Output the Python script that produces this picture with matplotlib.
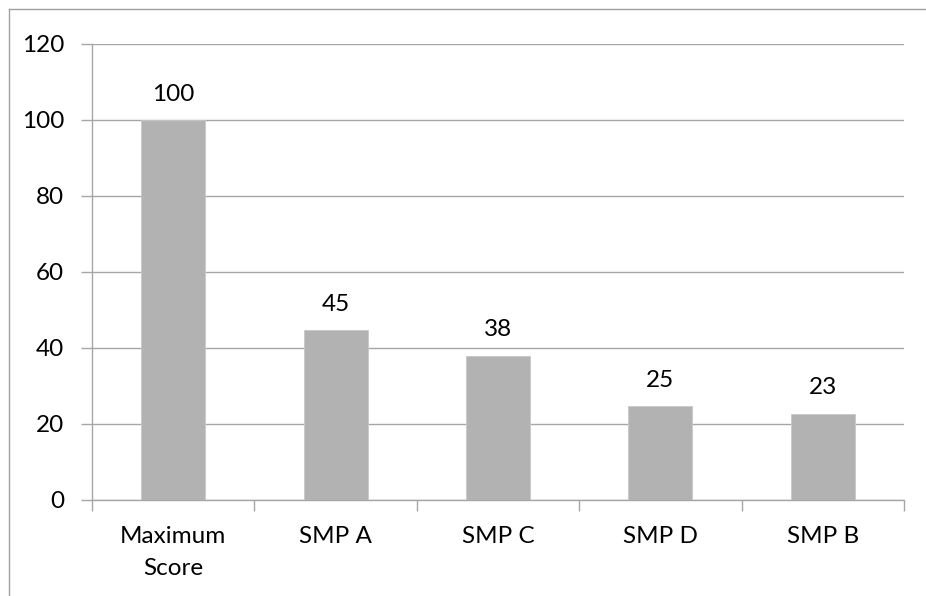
import matplotlib
matplotlib.use("Agg")
import matplotlib.pyplot as plt
from matplotlib.lines import Line2D
import numpy as np

categories = ["Maximum\nScore", "SMP A", "SMP C", "SMP D", "SMP B"]
values = [100, 44.6, 37.9, 24.6, 22.6]
yticks = [0, 20, 40, 60, 80, 100, 120]

plt.rcParams['font.family'] = ['Lato', 'DejaVu Sans']
FS = 17.5

fig = plt.figure(figsize=(9.26, 5.96), dpi=100)
ax = fig.add_axes([92/926, 1-499.5/596, (904-92)/926, (499.5-44)/596])

x = np.arange(len(categories))
bars = ax.bar(x, values, width=0.395, color='#b2b2b2', edgecolor='#c8c8c8', linewidth=0.6, zorder=3)

ax.set_xlim(-0.5, len(categories) - 0.5)
ax.set_ylim(0, 120)
ax.set_yticks(yticks)
ax.set_yticklabels([str(t) for t in yticks], fontsize=FS)
ax.yaxis.grid(True, color='#a6a6a6', linewidth=1.0, zorder=0)
ax.set_axisbelow(True)

# category labels centered; ticks at category boundaries
ax.set_xticks(x)
ax.set_xticklabels(categories, fontsize=FS, linespacing=1.65)
ax.tick_params(axis='x', which='major', length=0, pad=19)
ax.set_xticks(np.arange(-0.5, len(categories)), minor=True)
ax.tick_params(axis='x', which='minor', length=8, color='#a6a6a6', width=1.0, direction='out')
ax.tick_params(axis='y', length=8, color='#a6a6a6', width=1.0, direction='out', pad=12)

for s in ['top', 'right']:
    ax.spines[s].set_visible(False)
for s in ['left', 'bottom']:
    ax.spines[s].set_color('#a6a6a6')
    ax.spines[s].set_linewidth(1.0)

for xi, v in zip(x, values):
    ax.annotate(f"{v:.0f}", (xi, v), xytext=(0, 11), textcoords='offset points',
                ha='center', va='bottom', fontsize=FS)

# outer chart border (left and top visible)
fig.add_artist(Line2D([9/926, 9/926], [0, 1-9/596], transform=fig.transFigure, color='#a0a0a0', linewidth=1.0))
fig.add_artist(Line2D([9/926, 1], [1-9/596, 1-9/596], transform=fig.transFigure, color='#a0a0a0', linewidth=1.0))

fig.savefig("out.png", dpi=100)
